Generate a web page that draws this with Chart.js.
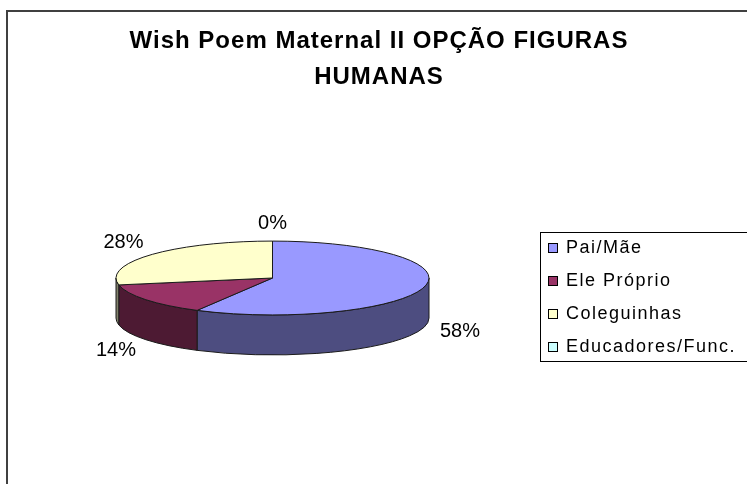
<!DOCTYPE html>
<html>
<head>
<meta charset="utf-8">
<script src="https://cdn.jsdelivr.net/npm/chart.js@4.4.1/dist/chart.umd.min.js"></script>
<style>
    html, body { margin: 0; padding: 0; background: #fff; }
    #wrap { width: 747px; height: 484px; }
</style>
</head>
<body>
<div id="wrap"><canvas id="chart" width="747" height="484"></canvas></div>
<script>
const titleLines = ['Wish Poem Maternal II OPÇÃO FIGURAS', 'HUMANAS'];
const categories = ['Pai/Mãe', 'Ele Próprio', 'Coleguinhas', 'Educadores/Func.'];
const values = [58, 14, 28, 0];
const topColors = ['#9999FF', '#993366', '#FFFFCC', '#CCFFFF'];
const sideColors = ['#4D4D80', '#4D1A33', '#80806A', '#668080'];

const font = '"Liberation Sans", Arial, sans-serif';

// squashes the pie into a tilted disc and gives it a wall
const pie3d = {
    id: 'pie3d',
    beforeDatasetsDraw(chart) {
        const ctx = chart.ctx;
        const arcs = chart.getDatasetMeta(0).data;
        const first = arcs[0];
        const cx = first.x;
        const cy = first.y;
        const rx = first.outerRadius;
        const ry = rx * 0.236;
        const depth = 40;

        ctx.save();
        ctx.lineWidth = 1;
        ctx.strokeStyle = '#1a1a1a';

        // front walls
        arcs.forEach((arc, i) => {
            const s = Math.max(arc.startAngle, 0);
            const e = Math.min(arc.endAngle, Math.PI);
            if (e <= s || values[i] === 0) {
                return;
            }
            ctx.beginPath();
            ctx.ellipse(cx, cy, rx, ry, 0, s, e);
            ctx.lineTo(cx + rx * Math.cos(e), cy + depth + ry * Math.sin(e));
            ctx.ellipse(cx, cy + depth, rx, ry, 0, e, s, true);
            ctx.closePath();
            ctx.fillStyle = sideColors[i];
            ctx.fill();
            ctx.stroke();
        });

        // top face
        arcs.forEach((arc, i) => {
            if (values[i] === 0) {
                return;
            }
            ctx.beginPath();
            ctx.moveTo(cx, cy);
            ctx.ellipse(cx, cy, rx, ry, 0, arc.startAngle, arc.endAngle);
            ctx.closePath();
            ctx.fillStyle = topColors[i];
            ctx.fill();
            ctx.stroke();
        });

        // percentage labels
        const total = values.reduce((a, b) => a + b, 0);
        ctx.fillStyle = '#000';
        ctx.font = '20px ' + font;
        ctx.textAlign = 'center';
        ctx.textBaseline = 'middle';
        arcs.forEach((arc, i) => {
            const mid = (arc.startAngle + arc.endAngle) / 2;
            const c = Math.cos(mid);
            const sn = Math.sin(mid);
            const x = cx + c * (rx + 37);
            let y = cy + sn * (ry + 18);
            if (sn > 0) {
                y += depth;
            }
            ctx.fillText(Math.round(values[i] / total * 100) + '%', x, y);
        });

        ctx.restore();
        return false;
    },
    afterDraw(chart) {
        const ctx = chart.ctx;
        ctx.save();

        // outer frame
        ctx.strokeStyle = '#404040';
        ctx.lineWidth = 2;
        ctx.strokeRect(7, 11, 800, 600);

        // title
        ctx.fillStyle = '#000';
        ctx.font = 'bold 24px ' + font;
        ctx.letterSpacing = '1px';
        ctx.textAlign = 'center';
        ctx.textBaseline = 'middle';
        titleLines.forEach((t, i) => ctx.fillText(t, 379, 41 + i * 36));

        // legend
        ctx.strokeStyle = '#000';
        ctx.lineWidth = 1;
        ctx.strokeRect(540.5, 232.5, 300, 129);
        ctx.font = '18px ' + font;
        ctx.letterSpacing = '1.5px';
        ctx.textAlign = 'left';
        categories.forEach((name, i) => {
            const y = 248 + i * 33;
            ctx.fillStyle = topColors[i];
            ctx.fillRect(548.5, y - 4.5, 9, 9);
            ctx.strokeRect(548.5, y - 4.5, 9, 9);
            ctx.fillStyle = '#000';
            ctx.fillText(name, 566, y);
        });

        ctx.restore();
    },
};

new Chart(document.getElementById('chart').getContext('2d'), {
    type: 'pie',
    data: {
        labels: categories,
        datasets: [
            {
                data: values,
                backgroundColor: topColors,
                borderWidth: 0,
            },
        ],
    },
    options: {
        responsive: false,
        animation: false,
        layout: {
            padding: { left: 116, right: 318, top: 121, bottom: 49 },
        },
        plugins: {
            legend: { display: false },
            title: { display: false },
            tooltip: { enabled: false },
        },
    },
    plugins: [pie3d],
});
</script>
</body>
</html>
